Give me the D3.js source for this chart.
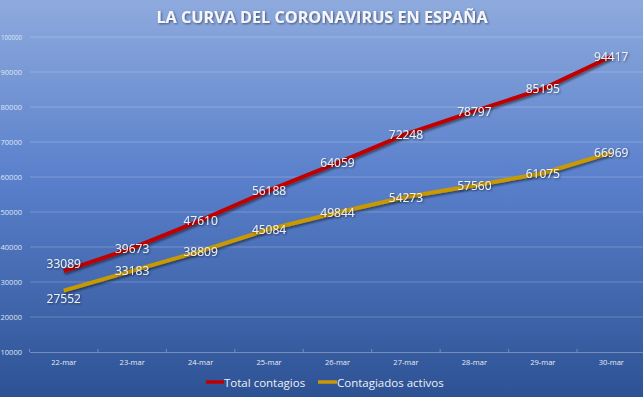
<!DOCTYPE html>
<html><head><meta charset="utf-8">
<script src="https://cdn.jsdelivr.net/npm/d3@7"></script>
<style>html,body{margin:0;padding:0;overflow:hidden;background:#4a72c0}</style>
</head><body>
<script>
const categories = ["22-mar","23-mar","24-mar","25-mar","26-mar","27-mar","28-mar","29-mar","30-mar"];
const totalContagios = [33089,39673,47610,56188,64059,72248,78797,85195,94417];
const contagiadosActivos = [27552,33183,38809,45084,49844,54273,57560,61075,66969];
const yTicks = [10000,20000,30000,40000,50000,60000,70000,80000,90000,100000];
const seriesNames = ["Total contagios","Contagiados activos"];
const seriesColors = ["#c00000","#c99a06"];

const W=643,H=397;
const svg=d3.select("body").append("svg").attr("width",W).attr("height",H);
const defs=svg.append("defs");
const g=defs.append("linearGradient").attr("id","bg").attr("x1",0).attr("y1",0).attr("x2",0).attr("y2",1);
g.append("stop").attr("offset","0%").attr("stop-color","#8eaadd");
g.append("stop").attr("offset","45%").attr("stop-color","#5a80cc");
g.append("stop").attr("offset","100%").attr("stop-color","#2d5294");
const f=defs.append("filter").attr("id","sh").attr("x","-10%").attr("y","-10%").attr("width","120%").attr("height","130%");
f.append("feDropShadow").attr("dx",1).attr("dy",2).attr("stdDeviation",1.2).attr("flood-color","#000").attr("flood-opacity",0.45);
const ft=defs.append("filter").attr("id","tsh");
ft.append("feDropShadow").attr("dx",1).attr("dy",1).attr("stdDeviation",0.8).attr("flood-color","#000").attr("flood-opacity",0.5);

svg.append("rect").attr("width",W).attr("height",H).attr("fill","url(#bg)");

const font="Open Sans, Liberation Sans, sans-serif";
svg.append("text").attr("x",322).attr("y",23).attr("text-anchor","middle")
  .attr("font-family",font).attr("font-weight","bold").attr("font-size",16.2)
  .attr("fill","#f4f6fb").attr("filter","url(#tsh)").text("LA CURVA DEL CORONAVIRUS EN ESPAÑA");

const x=d3.scaleBand().domain(categories).range([29.5,645.5]);
const y=d3.scaleLinear().domain([10000,100000]).range([352,37]);

// gridlines
svg.append("g").selectAll("line").data(yTicks.slice(1)).join("line")
  .attr("x1",30).attr("x2",643).attr("y1",d=>y(d)).attr("y2",d=>y(d))
  .attr("stroke","rgba(255,255,255,0.22)").attr("stroke-width",1);

// y labels
svg.append("g").selectAll("text").data(yTicks).join("text")
  .attr("x",22).attr("y",d=>y(d)+3).attr("text-anchor","end")
  .attr("font-family",font).attr("font-size",7.5).attr("fill","#dfe6f3")
  .each(function(d){ if(String(d).length>5){ d3.select(this).attr("x",1).attr("text-anchor","start").attr("textLength",21).attr("lengthAdjust","spacingAndGlyphs"); } })
  .text(d=>d);

// x axis
const xAxis=svg.append("g").attr("transform","translate(0,352)")
  .call(d3.axisBottom(x).tickSize(0).tickPadding(8));
xAxis.select(".domain").attr("stroke","rgba(255,255,255,0.3)");
xAxis.selectAll("text").attr("font-family",font).attr("font-size",7.5).attr("fill","#e6ecf6");
svg.append("g").selectAll("line").data(d3.range(categories.length+1)).join("line")
  .attr("x1",i=>29.5+i*x.step()).attr("x2",i=>29.5+i*x.step()).attr("y1",349).attr("y2",352)
  .attr("stroke","rgba(255,255,255,0.3)");

const cx=d=>x(d)+x.bandwidth()/2;
const line=d3.line().x((d,i)=>cx(categories[i])).y(d=>y(d));
[totalContagios,contagiadosActivos].forEach((vals,si)=>{
  svg.append("path").datum(vals).attr("d",line).attr("fill","none")
    .attr("stroke",seriesColors[si]).attr("stroke-width",4).attr("stroke-linejoin","round")
    .attr("filter","url(#sh)");
});
[totalContagios,contagiadosActivos].forEach((vals,si)=>{
  svg.append("g").selectAll("text").data(vals).join("text")
    .attr("x",(d,i)=>cx(categories[i]))
    .attr("y",(d,i)=>y(d)+4.5+(i===0?(si===0?-8:8):0))
    .attr("text-anchor","middle").attr("font-family",font).attr("font-size",12)
    .attr("fill","#eef0f4").attr("filter","url(#tsh)").text(d=>d);
});

// legend
const leg=[{x:206,lx:224},{x:318,lx:337}];
seriesNames.forEach((n,i)=>{
  svg.append("line").attr("x1",leg[i].x).attr("x2",leg[i].lx).attr("y1",382).attr("y2",382)
    .attr("stroke",seriesColors[i]).attr("stroke-width",3.5);
  svg.append("text").attr("x",leg[i].lx).attr("y",386.5).attr("font-family",font).attr("font-size",11.5)
    .attr("fill","#eef0f4").text(n);
});
</script>
</body></html>
